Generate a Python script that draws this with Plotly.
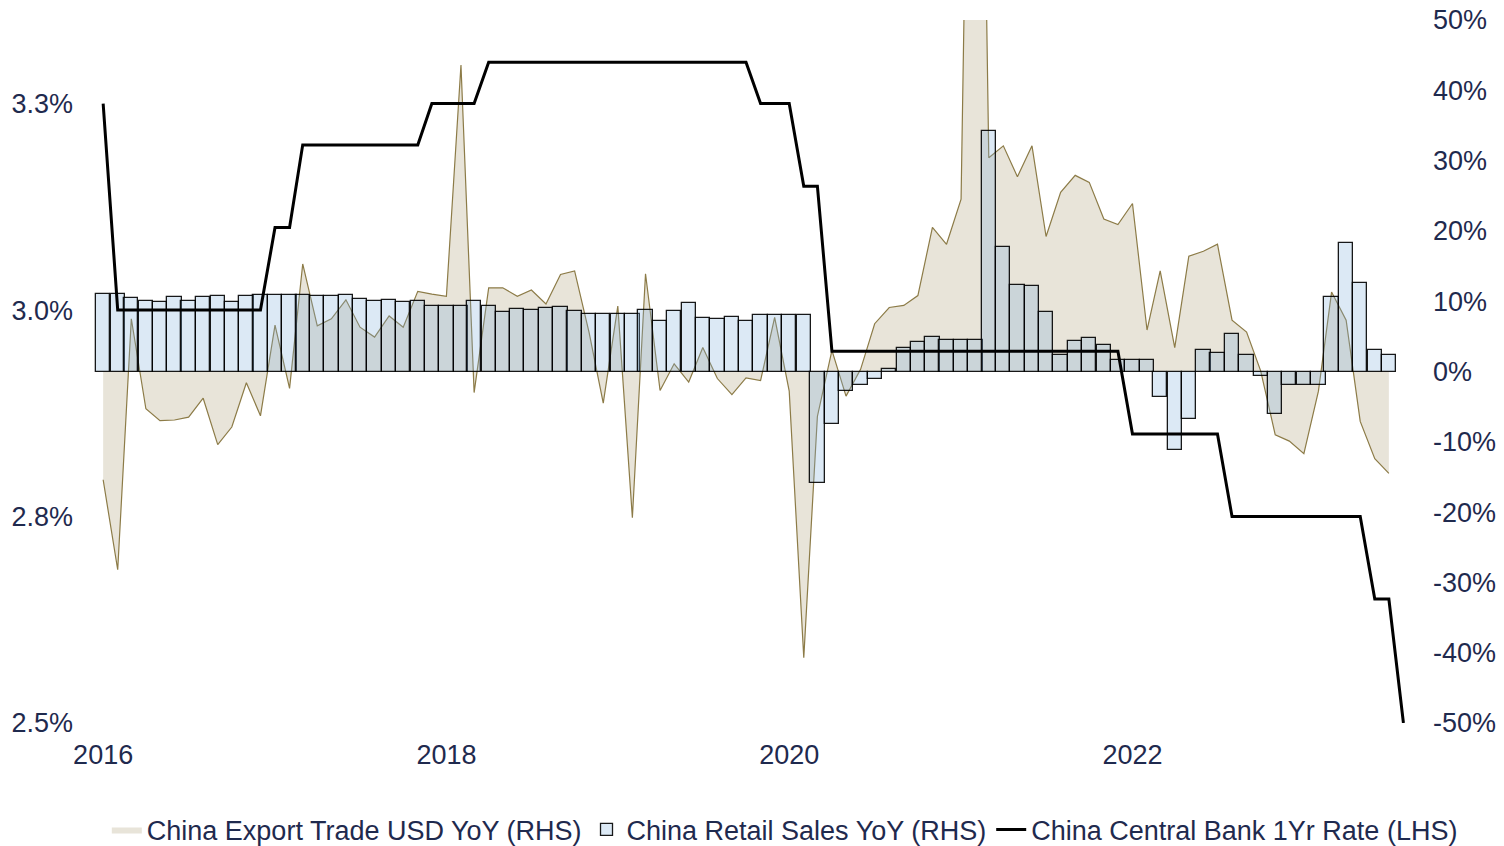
import pandas as pd
import plotly.graph_objects as go

# ---- data (monthly, Jan 2016 onward) ----
months_rate = pd.date_range("2016-01-01", periods=92, freq="MS")
months = months_rate[:91]

export_yoy = [
    -15.4, -28.2, 7.5, -5.3, -7.0, -6.9, -6.5, -3.8, -10.4, -7.9, -1.6, -6.3,
    6.6, -2.4, 15.3, 6.5, 7.5, 10.2, 6.3, 4.9, 7.9, 6.3, 11.4, 11.0,
    10.7, 43.6, -3.0, 11.9, 11.9, 10.7, 11.6, 9.6, 13.8, 14.3, 5.5, -4.5,
    9.3, -20.8, 13.9, -2.7, 1.1, -1.5, 3.4, -1.0, -3.3, -0.9, -1.3, 7.7,
    -2.8, -40.7, -6.4, 3.0, -3.5, 0.3, 6.8, 9.1, 9.4, 10.8, 20.5, 18.1,
    24.5, 154.9, 30.4, 32.1, 27.7, 32.1, 19.2, 25.5, 27.9, 26.9, 21.7, 20.9,
    23.9, 5.9, 14.3, 3.4, 16.4, 17.1, 18.1, 7.3, 5.6, 0.1, -9.0, -9.9,
    -11.7, -2.8, 11.3, 7.3, -7.1, -12.4, -14.5,
]

retail_yoy = [
    11.05, 11.05, 10.4, 10.0, 9.9, 10.6, 10.1, 10.6, 10.7, 9.9, 10.7, 10.9,
    10.9, 10.9, 10.9, 10.7, 10.7, 10.9, 10.3, 10.05, 10.2, 9.9, 10.1, 9.3,
    9.3, 9.3, 10.05, 9.3, 8.4, 8.9, 8.7, 9.0, 9.2, 8.6, 8.15, 8.2,
    8.2, 8.2, 8.7, 7.2, 8.6, 9.8, 7.6, 7.4, 7.7, 7.2, 8.0, 8.0,
    8.0, 8.0, -15.8, -7.5, -2.8, -1.85, -1.1, 0.4, 3.3, 4.2, 4.9, 4.55,
    4.55, 4.55, 34.2, 17.7, 12.3, 12.1, 8.4, 2.4, 4.3, 4.8, 3.8, 1.7,
    1.7, 1.7, -3.6, -11.2, -6.8, 3.0, 2.65, 5.4, 2.4, -0.6, -6.0, -1.85,
    -1.85, -1.85, 10.6, 18.3, 12.6, 3.0, 2.4,
]

rate_1yr = [
    3.25, 3.0, 3.0, 3.0, 3.0, 3.0, 3.0, 3.0, 3.0, 3.0, 3.0, 3.0,
    3.1, 3.1, 3.2, 3.2, 3.2, 3.2, 3.2, 3.2, 3.2, 3.2, 3.2, 3.25,
    3.25, 3.25, 3.25, 3.3, 3.3, 3.3, 3.3, 3.3, 3.3, 3.3, 3.3, 3.3,
    3.3, 3.3, 3.3, 3.3, 3.3, 3.3, 3.3, 3.3, 3.3, 3.3, 3.25, 3.25,
    3.25, 3.15, 3.15, 2.95, 2.95, 2.95, 2.95, 2.95, 2.95, 2.95, 2.95, 2.95,
    2.95, 2.95, 2.95, 2.95, 2.95, 2.95, 2.95, 2.95, 2.95, 2.95, 2.95, 2.95,
    2.85, 2.85, 2.85, 2.85, 2.85, 2.85, 2.85, 2.75, 2.75, 2.75, 2.75, 2.75,
    2.75, 2.75, 2.75, 2.75, 2.75, 2.65, 2.65, 2.5,
]

left_tickvals = [2.5, 2.75, 3.0, 3.25]
left_ticktext = ["2.5%", "2.8%", "3.0%", "3.3%"]
right_tickvals = [-50, -40, -30, -20, -10, 0, 10, 20, 30, 40, 50]
right_ticktext = [f"{v}%" for v in right_tickvals]

NAVY = "#1f2a4e"
FONT = "Arial, Liberation Sans, sans-serif"
FS = 27

fig = go.Figure()

# export area (fill only, carries legend)
fig.add_trace(go.Scatter(
    x=months, y=export_yoy, name="China Export Trade USD YoY (RHS)",
    mode="lines", line=dict(width=0, color="rgba(0,0,0,0)"),
    fill="tozeroy", fillcolor="#e8e4d9", yaxis="y", hoverinfo="skip",
))
# export outline
fig.add_trace(go.Scatter(
    x=months, y=export_yoy, name="export line", showlegend=False,
    mode="lines", line=dict(width=1.2, color="#8c7b47"), yaxis="y",
    hoverinfo="skip",
))
# retail bars
fig.add_trace(go.Bar(
    x=months, y=retail_yoy, name="China Retail Sales YoY (RHS)",
    marker=dict(color="rgba(130,176,219,0.28)",
                line=dict(color="rgba(0,0,0,0.9)", width=1.3)),
    width=30.44 * 86400000, yaxis="y2", hoverinfo="skip",
))
# central bank rate
fig.add_trace(go.Scatter(
    x=months_rate, y=rate_1yr, name="China Central Bank 1Yr Rate (LHS)",
    mode="lines", line=dict(width=3, color="#000000"), yaxis="y3",
    hoverinfo="skip",
))

fig.update_layout(
    width=1504, height=846,
    margin=dict(l=82, r=102, t=12, b=131, autoexpand=False),
    paper_bgcolor="white", plot_bgcolor="white",
    font=dict(family=FONT, size=FS, color=NAVY),
    showlegend=True, bargap=0,
    legend=dict(
        orientation="h", xref="paper", yref="paper",
        x=1.04, xanchor="right", y=-0.152, yanchor="middle",
        font=dict(size=FS, color=NAVY), itemwidth=30,
        bgcolor="rgba(0,0,0,0)",
    ),
    xaxis=dict(
        type="date", range=["2015-12-04", "2023-08-15"],
        tickformat="%Y", dtick="M24", tick0="2016-01-01",
        showgrid=False, zeroline=False, showline=False, ticks="",
        ticklabelstandoff=13, automargin=False,
        tickfont=dict(size=FS, color=NAVY, family=FONT),
    ),
    yaxis=dict(
        side="right", range=[-50, 50], tickvals=right_tickvals,
        ticktext=right_ticktext, showgrid=False, zeroline=False,
        showline=False, ticks="", ticklabelstandoff=22, automargin=False,
        ticklabeloverflow="allow",
        tickfont=dict(size=FS, color=NAVY, family=FONT),
    ),
    yaxis2=dict(
        overlaying="y", side="right", range=[-50, 50], showgrid=False,
        zeroline=False, showline=False, showticklabels=False, ticks="",
        automargin=False,
    ),
    yaxis3=dict(
        overlaying="y", side="left", range=[2.5, 3.3512],
        tickvals=left_tickvals, ticktext=left_ticktext, showgrid=False,
        zeroline=False, showline=False, ticks="", ticklabelstandoff=16,
        automargin=False, ticklabeloverflow="allow",
        tickfont=dict(size=FS, color=NAVY, family=FONT),
    ),
)

fig.write_html("out.html", config={"displayModeBar": False})
